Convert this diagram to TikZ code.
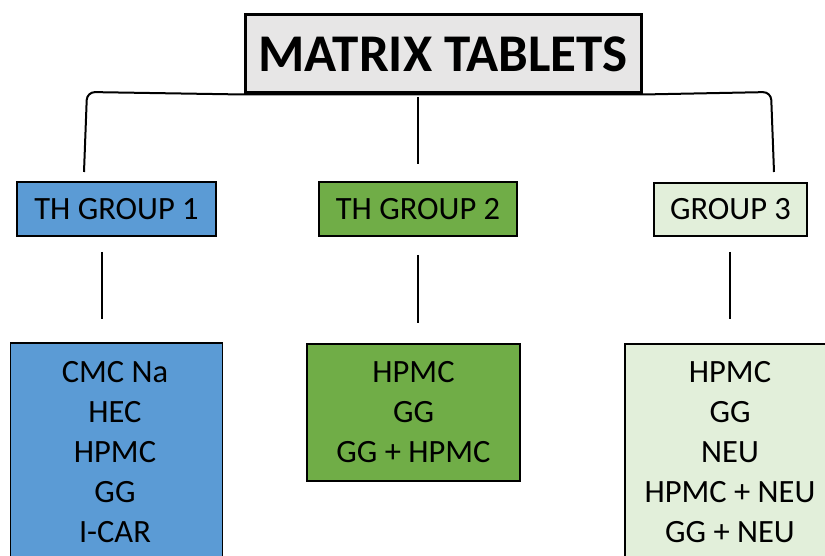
\documentclass[tikz,border=0pt]{standalone}
\usepackage{fontspec}
\setmainfont{Carlito}
\definecolor{cblue}{HTML}{5B9BD5}
\definecolor{cgreen}{HTML}{70AD47}
\definecolor{clight}{HTML}{E2EFDA}
\definecolor{cgray}{HTML}{E7E6E6}
\begin{document}
\begin{tikzpicture}[x=1pt,y=-1pt,
  box/.style={draw=black,line width=1.3pt,inner sep=0pt},
  grp/.style={box,font=\fontsize{32.5}{36}\selectfont},
  lst/.style={align=center,inner sep=0pt,font=\fontsize{32.5}{40}\selectfont},
  conn/.style={line width=2pt}]
\useasboundingbox (0,0) rectangle (825,556);
\clip (0,0) rectangle (825,556);
% title
\node[box,fill=cgray,line width=3pt,minimum width=396pt,minimum height=78pt,
  font=\fontsize{53}{60}\selectfont\bfseries] (title) at (443,54) {MATRIX TABLETS};
% groups
\node[grp,fill=cblue,minimum width=199pt,minimum height=54pt] (g1) at (116.5,209) {TH GROUP 1};
\node[grp,fill=cgreen,minimum width=198pt,minimum height=54pt] (g2) at (418,209) {TH GROUP 2};
\node[grp,fill=clight,minimum width=153pt,minimum height=53pt] (g3) at (730.5,209.5) {GROUP 3};
% bottom boxes
\node[box,fill=cblue,minimum width=212pt,minimum height=257pt] (b1) at (116.5,471.5) {};
\node[box,fill=cgreen,minimum width=213pt,minimum height=137pt] (b2) at (413.5,412.5) {};
\node[box,fill=clight,minimum width=212pt,minimum height=257pt] (b3) at (731,472.5) {};
\node[lst] (t1) at (115,452) {CMC Na\\HEC\\HPMC\\GG\\I-CAR};
\node[lst] (t2) at (413.5,412) {HPMC\\GG\\GG + HPMC};
\node[lst] (t3) at (730,452) {HPMC\\GG\\NEU\\HPMC + NEU\\GG + NEU};
% connectors
\coordinate (bl) at (84,172);
\coordinate (br) at (774,172);
\coordinate (m1) at (418,97);
\coordinate (m2) at (418,164);
\draw[conn,rounded corners=8pt] (bl) -- (87,92) -- (title.south west) -- (title.south east) -- (771,92) -- (br);
\draw[conn] (m1) -- (m2);
\coordinate (v1a) at (101.5,252);
\coordinate (v1b) at (101.5,319);
\coordinate (v2a) at (418,255);
\coordinate (v2b) at (418,323);
\coordinate (v3a) at (730,252);
\coordinate (v3b) at (730,319);
\draw[conn] (v1a) -- (v1b);
\draw[conn] (v2a) -- (v2b);
\draw[conn] (v3a) -- (v3b);
\end{tikzpicture}
\end{document}
